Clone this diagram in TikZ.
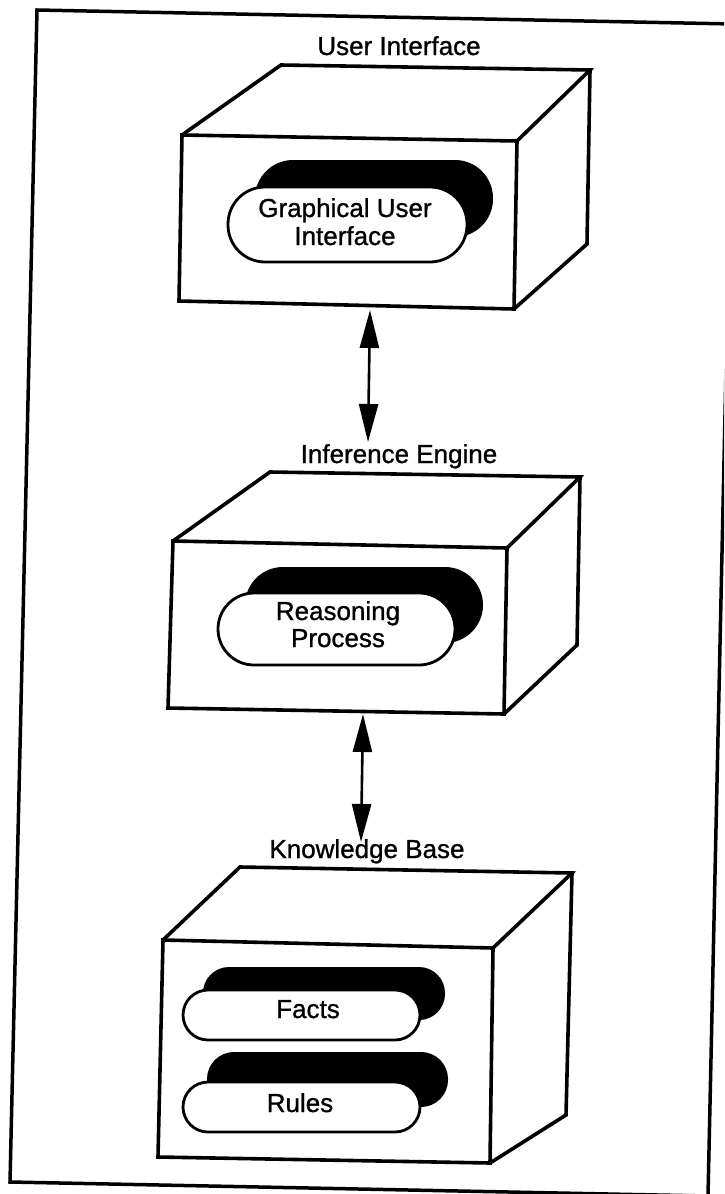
\documentclass[tikz,border=0pt]{standalone}
\usepackage{fontspec}
\setmainfont{Liberation Sans}[BoldFont={Liberation Sans}, BoldFeatures={FakeBold=1}]
\usetikzlibrary{arrows.meta}
\tikzset{
  frameline/.style={line width=3.5pt, line join=miter},
  boxline/.style={line width=3.6pt, line join=miter},
  pillw/.style={draw, fill=white, line width=2.8pt, inner sep=0pt},
  pillb/.style={fill=black, inner sep=0pt},
  lbl/.style={font=\fontsize{26}{28}\selectfont\bfseries, inner sep=0pt, anchor=base},
  arr/.style={line width=2.6pt, {Triangle[length=38pt,width=19pt]}-{Triangle[length=38pt,width=19pt]}},
}
\begin{document}
\begin{tikzpicture}[x=1pt,y=-1pt]
\useasboundingbox (0,0) rectangle (724,1194);
\clip (0,0) rectangle (724,1194);
\fill[white] (0,0) rectangle (724,1194);
% outer frame
\coordinate (fA) at (37,10);
\coordinate (fB) at (733.5,24);
\coordinate (fC) at (708,1196);
\coordinate (fD) at (10,1182);
\draw[frameline] (fA) -- (fB) -- (fC) -- (fD) -- cycle;

% ---------- Box 1: User Interface
\coordinate (u1) at (182,135);
\coordinate (u2) at (517,141);
\coordinate (u3) at (514,309);
\coordinate (u4) at (179,301);
\coordinate (u5) at (281,65);
\coordinate (u6) at (590,70);
\coordinate (u7) at (587,244);
\draw[boxline] (u1) -- (u2) -- (u3) -- (u4) -- cycle;
\draw[boxline] (u1) -- (u5) -- (u6) -- (u2);
\draw[boxline] (u6) -- (u7) -- (u3);
\node[lbl] (uilabel) at (399,55) {User Interface};
\node[pillb, minimum width=238pt, minimum height=77pt, rounded corners=38pt] (guib) at (374,198.5) {};
\node[pillw, minimum width=239pt, minimum height=75pt, rounded corners=37pt] (guiw) at (347.5,224.5) {};
\node[lbl] (guit1) at (345,217) {Graphical User};
\node[lbl] (guit2) at (345,245) {Interface};

% ---------- Box 2: Inference Engine
\coordinate (i1) at (173,541);
\coordinate (i2) at (507,548);
\coordinate (i3) at (504,714);
\coordinate (i4) at (168,708);
\coordinate (i5) at (270,472);
\coordinate (i6) at (580,477);
\coordinate (i7) at (577,645);
\draw[boxline] (i1) -- (i2) -- (i3) -- (i4) -- cycle;
\draw[boxline] (i1) -- (i5) -- (i6) -- (i2);
\draw[boxline] (i6) -- (i7) -- (i3);
\node[lbl] (ielabel) at (399,463) {Inference Engine};
\node[pillb, minimum width=238pt, minimum height=76pt, rounded corners=38pt] (rpb) at (364,605) {};
\node[pillw, minimum width=237pt, minimum height=72pt, rounded corners=36pt] (rpw) at (336.5,629) {};
\node[lbl] (rpt1) at (338,620) {Reasoning};
\node[lbl] (rpt2) at (338,647) {Process};

% ---------- Box 3: Knowledge Base
\coordinate (k1) at (163,940);
\coordinate (k2) at (493,948);
\coordinate (k3) at (490,1163);
\coordinate (k4) at (158,1157);
\coordinate (k5) at (240,867);
\coordinate (k6) at (572,873);
\coordinate (k7) at (566,1115);
\draw[boxline] (k1) -- (k2) -- (k3) -- (k4) -- cycle;
\draw[boxline] (k1) -- (k5) -- (k6) -- (k2);
\draw[boxline] (k6) -- (k7) -- (k3);
\node[lbl] (kblabel) at (367,858) {Knowledge Base};
\node[pillb, minimum width=242pt, minimum height=53pt, rounded corners=26pt] (factsb) at (324,993.5) {};
\node[pillw, minimum width=237pt, minimum height=50pt, rounded corners=25pt] (factsw) at (301.5,1015) {};
\node[lbl] (factst) at (308,1018) {Facts};
\node[pillb, minimum width=241pt, minimum height=55pt, rounded corners=27pt] (rulesb) at (327.5,1079.5) {};
\node[pillw, minimum width=237pt, minimum height=50pt, rounded corners=25pt] (rulesw) at (301.5,1107) {};
\node[lbl] (rulest) at (300,1112) {Rules};

% ---------- connectors
\coordinate (uibot) at (370,310);
\coordinate (ietop) at (368,442);
\coordinate (iebot) at (363,714);
\coordinate (kbtop) at (361,842);
\draw[arr] (uibot) -- (ietop);
\draw[arr] (iebot) -- (kbtop);
\end{tikzpicture}
\end{document}
